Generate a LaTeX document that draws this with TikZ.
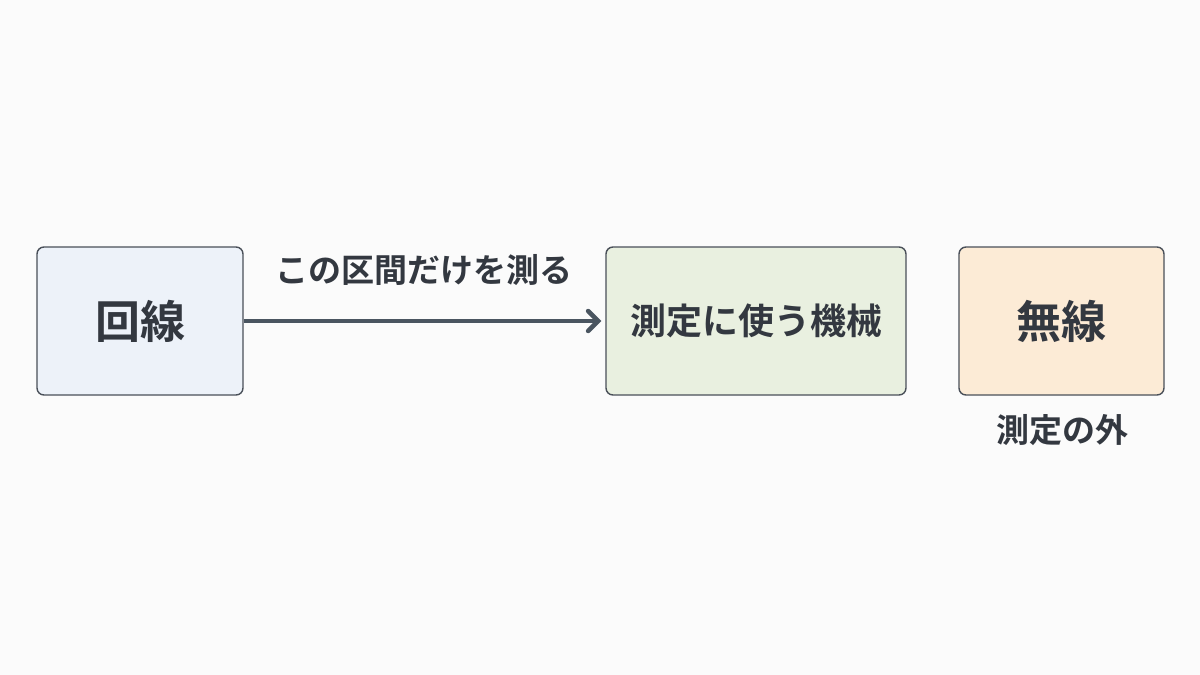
\documentclass[tikz,border=0pt]{standalone}
\usepackage{fontspec}
\newfontfamily\jp{Noto Sans CJK JP Bold}
\usetikzlibrary{arrows.meta}
\definecolor{bg}{HTML}{FBFBFB}
\definecolor{edge}{HTML}{4A5059}
\definecolor{txt}{HTML}{333840}
\definecolor{fillA}{HTML}{EDF2F9}
\definecolor{fillB}{HTML}{E9F0E0}
\definecolor{fillC}{HTML}{FCEBD6}
\definecolor{arr}{HTML}{4A5560}
\tikzset{
  boxnode/.style={draw=edge, line width=1.4pt, rounded corners=7pt, inner sep=0pt, text=txt},
  big/.style={font=\jp\fontsize{45}{50}\selectfont},
  mid/.style={font=\jp\fontsize{36}{42}\selectfont},
  lab/.style={font=\jp\fontsize{33}{38}\selectfont, text=txt, inner sep=0pt},
}
\begin{document}
\begin{tikzpicture}[x=1pt,y=-1pt]
\fill[bg] (0,0) rectangle (1200,675);
\useasboundingbox (0,0) rectangle (1200,675);
\node[boxnode, fill=fillA, minimum width=206pt, minimum height=148pt, big] (a) at (140,321) {回線};
\node[boxnode, fill=fillB, minimum width=300pt, minimum height=148pt, mid] (b) at (756,321) {測定に使う機械};
\node[boxnode, fill=fillC, minimum width=205pt, minimum height=148pt, big] (c) at (1061.5,321) {無線};
\draw[arr, line width=4.5pt, -{Straight Barb[length=10pt,width=20pt,line width=4.5pt, line cap=round]}] (a.east) -- ([xshift=-4pt]b.west);
\node[lab] (l) at (424,270) {この区間だけを測る};
\node[lab] (o) at (1062,430) {測定の外};
\end{tikzpicture}
\end{document}
